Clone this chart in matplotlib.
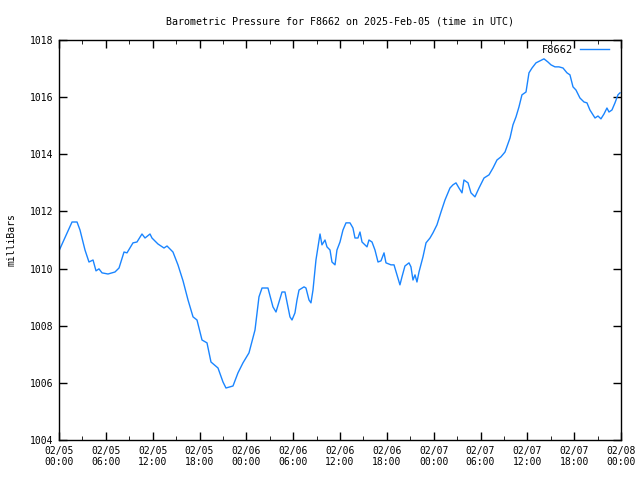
import matplotlib
matplotlib.use("Agg")
import matplotlib.pyplot as plt
import numpy as np

# hours since 2025-02-05 00:00 UTC
hours = [0.00, 1.67, 2.31, 2.69, 3.33, 3.84, 4.36, 4.74, 5.12, 5.51, 6.28, 7.17, 7.69,
         8.33, 8.71, 9.48, 9.99, 10.63, 11.02, 11.66, 11.91, 12.68, 13.45, 13.84, 14.60,
         15.24, 15.89, 16.53, 17.17, 17.68, 18.32, 18.96, 19.47, 20.37, 21.01, 21.39,
         22.29, 22.93, 23.57, 24.34, 25.11, 25.62, 26.01, 26.77, 27.41, 27.80, 28.18,
         28.57, 28.95, 29.21, 29.59, 29.85, 30.23, 30.49, 30.75, 31.39, 31.64, 32.03,
         32.28, 32.54, 32.92, 33.18, 33.44, 33.69, 34.08, 34.33, 34.72, 34.97, 35.36,
         35.61, 36.00, 36.38, 36.77, 37.28, 37.66, 37.92, 38.30, 38.56, 38.82, 39.20,
         39.46, 39.71, 40.10, 40.48, 40.87, 41.25, 41.64, 41.89, 42.53, 42.92, 43.30,
         43.68, 43.94, 44.32, 44.84, 45.09, 45.35, 45.61, 45.86, 46.12, 46.63, 47.02,
         47.53, 47.91, 48.42, 48.94, 49.45, 50.09, 50.47, 50.86, 51.24, 51.63, 51.88,
         52.40, 52.78, 53.29, 53.81, 54.45, 55.09, 55.60, 56.11, 56.62, 57.14, 57.78,
         58.16, 58.55, 58.93, 59.31, 59.83, 60.21, 60.60, 61.11, 61.62, 62.13, 62.64,
         63.03, 63.54, 64.05, 64.57, 65.08, 65.46, 65.85, 66.23, 66.74, 67.26, 67.64,
         68.02, 68.41, 68.67, 69.05, 69.43, 69.82, 70.20, 70.46, 70.84, 71.23, 71.61,
         71.87]
pressure = [1010.62, 1011.63, 1011.63, 1011.35, 1010.65, 1010.23, 1010.30, 1009.92,
            1009.99, 1009.85, 1009.81, 1009.88, 1010.02, 1010.58, 1010.55, 1010.90,
            1010.93, 1011.21, 1011.07, 1011.21, 1011.07, 1010.86, 1010.72, 1010.79,
            1010.58, 1010.13, 1009.57, 1008.90, 1008.31, 1008.20, 1007.50, 1007.40,
            1006.73, 1006.52, 1006.03, 1005.82, 1005.89, 1006.35, 1006.70, 1007.05,
            1007.85, 1009.01, 1009.32, 1009.32, 1008.66, 1008.48, 1008.83, 1009.18,
            1009.18, 1008.83, 1008.31, 1008.20, 1008.45, 1008.90, 1009.25, 1009.36,
            1009.32, 1008.90, 1008.80, 1009.25, 1010.30, 1010.76, 1011.21, 1010.83,
            1011.00, 1010.76, 1010.65, 1010.23, 1010.13, 1010.65, 1010.93, 1011.35,
            1011.60, 1011.60, 1011.42, 1011.07, 1011.07, 1011.28, 1010.93, 1010.83,
            1010.76, 1011.00, 1010.93, 1010.65, 1010.23, 1010.27, 1010.55, 1010.20,
            1010.13, 1010.13, 1009.78, 1009.43, 1009.71, 1010.09, 1010.20, 1010.06,
            1009.60, 1009.78, 1009.53, 1009.88, 1010.41, 1010.90, 1011.07, 1011.25,
            1011.53, 1011.98, 1012.40, 1012.82, 1012.93, 1013.00, 1012.82, 1012.65,
            1013.10, 1013.00, 1012.65, 1012.51, 1012.82, 1013.17, 1013.28, 1013.52,
            1013.80, 1013.91, 1014.08, 1014.57, 1015.03, 1015.31, 1015.66, 1016.08,
            1016.18, 1016.85, 1017.02, 1017.20, 1017.27, 1017.34, 1017.23, 1017.13,
            1017.06, 1017.06, 1017.02, 1016.85, 1016.78, 1016.36, 1016.25, 1015.97,
            1015.83, 1015.80, 1015.55, 1015.38, 1015.27, 1015.34, 1015.24, 1015.41,
            1015.62, 1015.48, 1015.55, 1015.80, 1016.08, 1016.15]

xtick_hours = list(range(0, 73, 6))
xtick_labels = ["02/05\n00:00", "02/05\n06:00", "02/05\n12:00", "02/05\n18:00",
                "02/06\n00:00", "02/06\n06:00", "02/06\n12:00", "02/06\n18:00",
                "02/07\n00:00", "02/07\n06:00", "02/07\n12:00", "02/07\n18:00",
                "02/08\n00:00"]
ytick_vals = list(range(1004, 1019, 2))

plt.rcParams['font.family'] = 'DejaVu Sans Mono'
plt.rcParams['font.size'] = 7

fig = plt.figure(figsize=(6.4, 4.8), dpi=100)
ax = fig.add_axes([59/640, 40/480, 562/640, 400/480])

ax.plot(hours, pressure, color='#1a85ff', lw=1, label='F8662')

ax.set_xlim(0, 72)
ax.set_ylim(1004, 1018)
ax.set_xticks(xtick_hours)
ax.set_xticklabels(xtick_labels)
ax.set_xticks(np.arange(3, 72, 6), minor=True)
ax.set_yticks(ytick_vals)
ax.tick_params(direction='in', top=True, right=True, length=6, width=1, pad=4)
ax.tick_params(which='minor', direction='in', top=True, length=3)
for s in ax.spines.values():
    s.set_linewidth(1)

ax.set_title("Barometric Pressure for F8662 on 2025-Feb-05 (time in UTC)", fontsize=7.2, pad=11.5)
ax.set_ylabel("milliBars", labelpad=10)

leg = ax.legend(loc='upper right', bbox_to_anchor=(0.9786, 0.988), frameon=False,
                markerfirst=False, handlelength=2.8, handletextpad=0.6,
                borderpad=0, borderaxespad=0, fontsize=7.5)

fig.savefig("out.png", dpi=100)
